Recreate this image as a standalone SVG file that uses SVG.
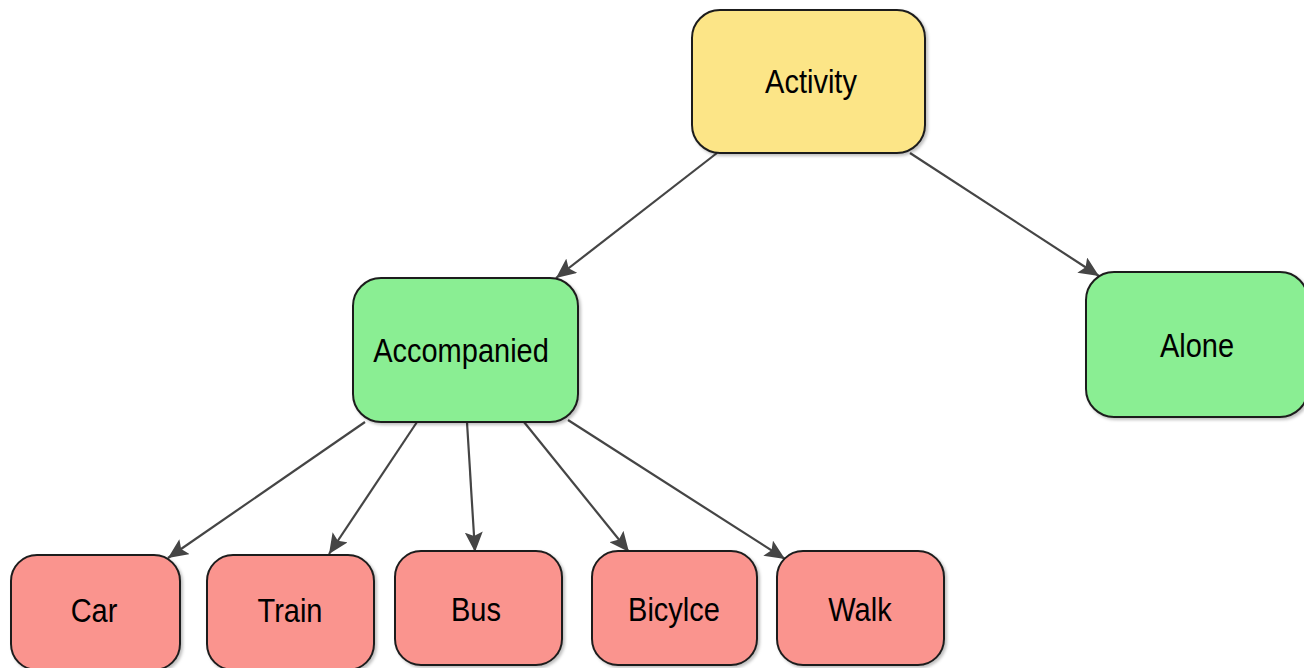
<svg xmlns="http://www.w3.org/2000/svg" width="1304" height="668" viewBox="0 0 1304 668">
<style>
.node rect{stroke:#1e1e1e;stroke-width:2}
.y{fill:#fce587}.g{fill:#8aee93}.r{fill:#fa948e}
.node text{font-family:"Liberation Sans",Arial,sans-serif;font-size:29px;fill:#000;text-anchor:middle}
.edges line{stroke:#454545;stroke-width:2.2;marker-end:url(#ah)}
</style>
<defs>
<marker id="ah" markerUnits="userSpaceOnUse" markerWidth="22" markerHeight="18" refX="20" refY="9" orient="auto">
<path d="M0,0 L20,9 L0,18 L4,9 Z" fill="#454545"/>
</marker>
<filter id="sh" x="-10%" y="-10%" width="130%" height="130%">
<feDropShadow dx="2" dy="2" stdDeviation="1.5" flood-color="#000" flood-opacity="0.25"/>
</filter>
</defs>
<g class="edges">
<line x1="717" y1="153" x2="556" y2="278"/>
<line x1="910" y1="153" x2="1099" y2="276"/>
<line x1="365" y1="422" x2="168" y2="558"/>
<line x1="417" y1="422" x2="329" y2="554"/>
<line x1="467" y1="422" x2="475" y2="552"/>
<line x1="524" y1="422" x2="629" y2="552"/>
<line x1="568" y1="420" x2="785" y2="559"/>
</g>
<g id="activity" class="node"><rect class="y" x="692" y="10" width="233" height="143" rx="28" filter="url(#sh)"/><text transform="translate(811,93) scale(1,1.15)">Activity</text></g>
<g id="accompanied" class="node"><rect class="g" x="353" y="278" width="225" height="144" rx="28" filter="url(#sh)"/><text transform="translate(461,362) scale(1,1.15)">Accompanied</text></g>
<g id="alone" class="node"><rect class="g" x="1086" y="272" width="222" height="145" rx="28" filter="url(#sh)"/><text transform="translate(1197,357) scale(1,1.15)">Alone</text></g>
<g id="car" class="node"><rect class="r" x="11" y="555" width="169" height="115" rx="26" filter="url(#sh)"/><text transform="translate(94,622) scale(1,1.15)">Car</text></g>
<g id="train" class="node"><rect class="r" x="207" y="555" width="167" height="115" rx="26" filter="url(#sh)"/><text transform="translate(290,622) scale(1,1.15)">Train</text></g>
<g id="bus" class="node"><rect class="r" x="395" y="551" width="167" height="114" rx="26" filter="url(#sh)"/><text transform="translate(476,621) scale(1,1.15)">Bus</text></g>
<g id="bicylce" class="node"><rect class="r" x="592" y="551" width="165" height="114" rx="26" filter="url(#sh)"/><text transform="translate(674,621) scale(1,1.15)">Bicylce</text></g>
<g id="walk" class="node"><rect class="r" x="777" y="551" width="167" height="114" rx="26" filter="url(#sh)"/><text transform="translate(860,621) scale(1,1.15)">Walk</text></g>
</svg>
